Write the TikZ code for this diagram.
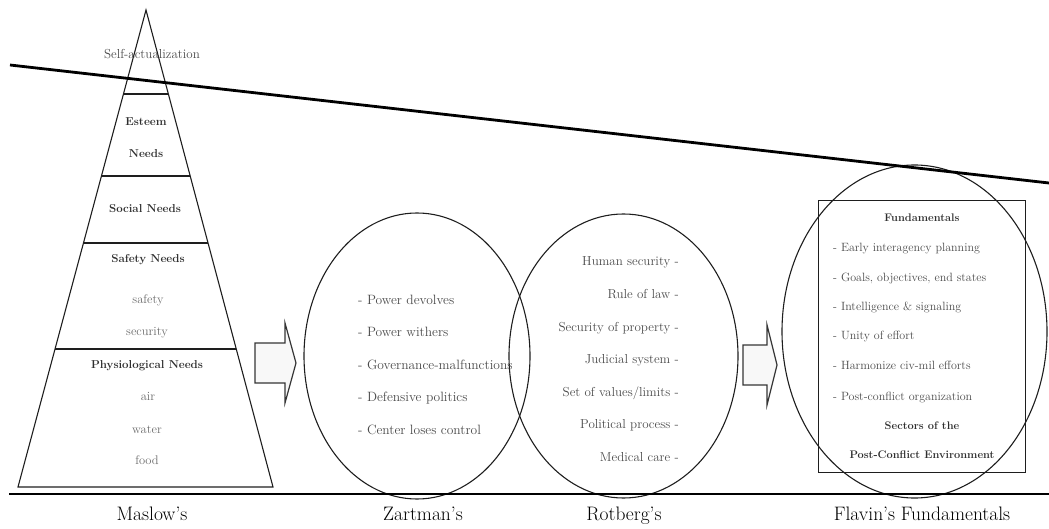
\documentclass[tikz,border=0pt]{standalone}
\usetikzlibrary{shapes.geometric,calc}

\definecolor{inkdark}{HTML}{1E1E1E}
\definecolor{boldgray}{HTML}{2E2E2E}
\definecolor{textgray}{HTML}{4A4A4A}
\definecolor{softgray}{HTML}{6A6A6A}
\definecolor{arrowfill}{HTML}{F8F8F8}

\tikzset{
  heavyline/.style={line width=2.8pt, draw=black},
  pyramidline/.style={line width=1.1pt, draw=inkdark},
  ring/.style={ellipse, draw=inkdark, line width=1.1pt, inner sep=0pt},
  framebox/.style={draw=inkdark, line width=1pt},
  blockarrow/.style={draw=inkdark!90, line width=1.2pt, fill=arrowfill},
  txt/.style={inner sep=0pt, text height=0.8em, text depth=0.1em},
  plain/.style={txt, text=textgray, font=\fontsize{13}{15}\selectfont},
  zplain/.style={txt, text=textgray, font=\fontsize{13.5}{15}\selectfont},
  small/.style={txt, text=softgray, font=\fontsize{12.5}{14}\selectfont},
  head/.style={txt, text=boldgray, font=\fontsize{11.5}{14}\selectfont\bfseries},
  boxtxt/.style={txt, text=textgray, font=\fontsize{12}{14}\selectfont},
  boxhead/.style={txt, text=boldgray, font=\fontsize{11}{13}\selectfont\bfseries},
  caption/.style={txt, text=black, font=\fontsize{19.5}{22}\selectfont},
}

\begin{document}
\begin{tikzpicture}[x=1pt,y=-1pt]
  \useasboundingbox (0,0) rectangle (1049,529);

  % ---------- Maslow's pyramid ----------
  \coordinate (apex) at (146,10);
  \coordinate (bl) at (18,487);
  \coordinate (br) at (273,487);
  \draw[pyramidline, line join=miter] (apex) -- (br) -- (bl) -- cycle;
  \foreach \t in {0.1761,0.348,0.4885,0.7107}
    \draw[pyramidline] ($(apex)!\t!(bl)$) -- ($(apex)!\t!(br)$);

  \node[plain]  (selfact) at (152,55)  {Self-actualization};
  \node[head]   (esteem1) at (146,122) {Esteem};
  \node[head]   (esteem2) at (146,154) {Needs};
  \node[head]   (social)  at (145,209) {Social Needs};
  \node[head]   (safetyh) at (148,259) {Safety Needs};
  \node[small]  (safety)  at (148,300) {safety};
  \node[small]  (secur)   at (147,332) {security};
  \node[head]   (physio)  at (147,365) {Physiological Needs};
  \node[small]  (air)     at (148,397) {air};
  \node[small]  (water)   at (147,430) {water};
  \node[small]  (food)    at (147,461) {food};

  % ---------- Zartman and Rotberg ellipses ----------
  \node[ring, minimum width=226pt, minimum height=286pt] (zartman) at (417,356) {};
  \node[ring, minimum width=229pt, minimum height=284pt] (rotberg) at (623.5,356) {};

  \node[zplain, anchor=west] (z1) at (358,301) {- Power devolves};
  \node[zplain, anchor=west] (z2) at (358,333) {- Power withers};
  \node[zplain, anchor=west] (z3) at (358,366) {- Governance-malfunctions};
  \node[zplain, anchor=west] (z4) at (358,398) {- Defensive politics};
  \node[zplain, anchor=west] (z5) at (358,431) {- Center loses control};

  \node[plain, anchor=east] (r1) at (679,262) {Human security -};
  \node[plain, anchor=east] (r2) at (679,295) {Rule of law -};
  \node[plain, anchor=east] (r3) at (679,328) {Security of property -};
  \node[plain, anchor=east] (r4) at (679,360) {Judicial system -};
  \node[plain, anchor=east] (r5) at (679,393) {Set of values/limits -};
  \node[plain, anchor=east] (r6) at (679,425) {Political process -};
  \node[plain, anchor=east] (r7) at (679,458) {Medical care -};

  % ---------- Flavin's fundamentals ----------
  \node[ring, minimum width=265pt, minimum height=333pt] (flavin) at (914.5,331.5) {};
  \draw[framebox] (818,201) rectangle (1025,472);

  \node[boxhead] (fund) at (922,218) {Fundamentals};
  \node[boxtxt, anchor=west] (f1) at (833,248) {- Early interagency planning};
  \node[boxtxt, anchor=west] (f2) at (833,278) {- Goals, objectives, end states};
  \node[boxtxt, anchor=west] (f3) at (833,307) {- Intelligence \& signaling};
  \node[boxtxt, anchor=west] (f4) at (833,336) {- Unity of effort};
  \node[boxtxt, anchor=west] (f5) at (833,366) {- Harmonize civ-mil efforts};
  \node[boxtxt, anchor=west] (f6) at (833,397) {- Post-conflict organization};
  \node[boxhead] (sect1) at (922,426) {Sectors of the};
  \node[boxhead] (sect2) at (922,455) {Post-Conflict Environment};

  % ---------- block arrows ----------
  \draw[blockarrow, line join=miter]
    (255,343) -- (285,343) -- (285,323) -- (296,363) -- (285,403) -- (285,383) -- (255,383) -- cycle;
  \draw[blockarrow, line join=miter]
    (743,345) -- (767,345) -- (767,325) -- (777,365) -- (767,405) -- (767,385) -- (743,385) -- cycle;

  % ---------- slanted line and ground line ----------
  \coordinate (slantL) at (10,65);
  \coordinate (slantR) at (1049,183);
  \draw[heavyline] (slantL) -- (slantR);
  \coordinate (groundL) at (9,494);
  \coordinate (groundR) at (1049,494);
  \draw[heavyline] (groundL) -- (groundR);

  % ---------- captions ----------
  \node[caption] (cmaslow)  at (152,517) {Maslow’s};
  \node[caption] (czartman) at (423,517) {Zartman’s};
  \node[caption] (crotberg) at (624,517) {Rotberg’s};
  \node[caption] (cflavin)  at (922,517) {Flavin’s Fundamentals};
\end{tikzpicture}
\end{document}
